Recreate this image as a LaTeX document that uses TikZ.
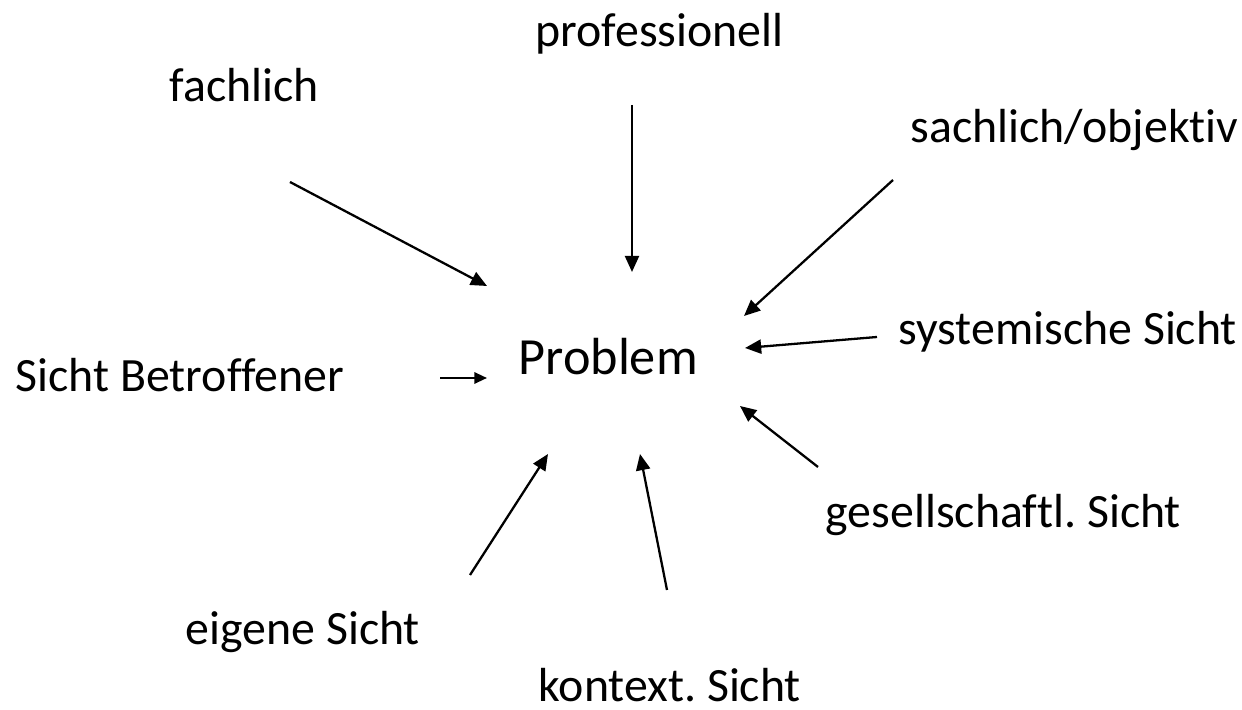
\documentclass[tikz,border=0pt]{standalone}
\usepackage{fontspec}
\setmainfont[Ligatures={NoCommon,NoRare}]{Carlito}
\frenchspacing
\usetikzlibrary{arrows.meta}
\begin{document}
\begin{tikzpicture}[x=0.01cm,y=-0.01cm,
  lbl/.style={anchor=base west,inner sep=0pt,font=\fontsize{13.6pt}{16pt}\selectfont},
  big/.style={anchor=base west,inner sep=0pt,font=\fontsize{14.85pt}{18pt}\selectfont},
  arr/.style={line width=0.65pt,-{Triangle[length=4.6pt,width=4pt]}},
  sarr/.style={line width=0.65pt,-{Triangle[length=3.6pt,width=3.2pt]}}]
\useasboundingbox (0,0) rectangle (1242,710);
\node[big] (problem) at (518,375) {Problem};
\node[lbl] (fach) at (169,102) {fachlich};
\node[lbl] (prof) at (535,47) {professionell};
\node[lbl] (sach) at (910,143) {sachlich/objektiv};
\node[lbl] (syst) at (898,345) {systemische Sicht};
\node[lbl] (betr) at (15,392) {Sicht Betroffener};
\node[lbl] (ges) at (825,528) {gesellschaftl. Sicht};
\node[lbl] (eig) at (185,645) {eigene Sicht};
\node[lbl] (kon) at (538,702) {kontext. Sicht};
\coordinate (a1) at (290,182); \coordinate (b1) at (487,286);
\coordinate (a2) at (632,105); \coordinate (b2) at (632,272);
\coordinate (a3) at (893,180); \coordinate (b3) at (744,316);
\coordinate (a4) at (877,337); \coordinate (b4) at (745,348);
\coordinate (a5) at (440,378); \coordinate (b5) at (487,378);
\coordinate (a6) at (818,467); \coordinate (b6) at (740,406);
\coordinate (a7) at (667,590); \coordinate (b7) at (640,454);
\coordinate (a8) at (470,575); \coordinate (b8) at (548,454);
\draw[arr] (a1) -- (b1);
\draw[arr] (a2) -- (b2);
\draw[arr] (a3) -- (b3);
\draw[arr] (a4) -- (b4);
\draw[sarr] (a5) -- (b5);
\draw[arr] (a6) -- (b6);
\draw[arr] (a7) -- (b7);
\draw[arr] (a8) -- (b8);
\end{tikzpicture}
\end{document}
